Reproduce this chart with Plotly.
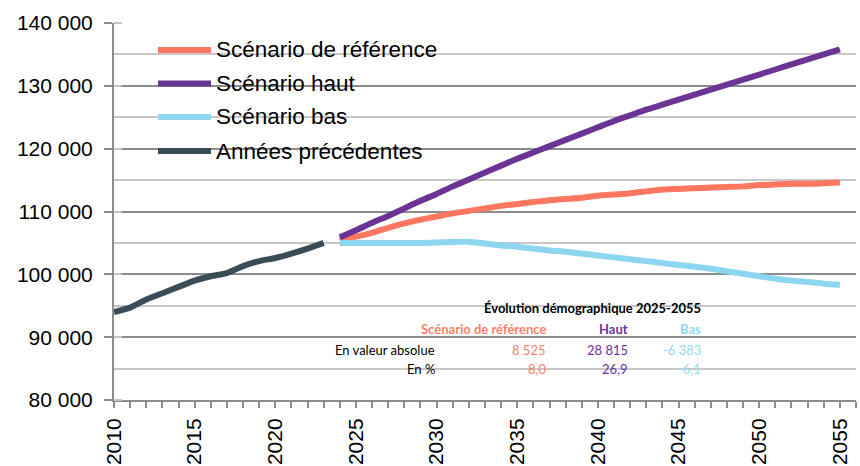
import plotly.graph_objects as go

# ---------------- data ----------------
years_hist = list(range(2010, 2024))
hist = [94000, 94700, 96000, 97000, 98000, 99000, 99700, 100200, 101300,
        102100, 102600, 103300, 104100, 105000]

years_scen = list(range(2024, 2056))
ref = [105400, 106000, 106600, 107400, 108100, 108700, 109200, 109700, 110100,
       110500, 110900, 111200, 111500, 111800, 112000, 112200, 112500, 112700,
       112900, 113200, 113500, 113600, 113700, 113800, 113900, 114000, 114200,
       114300, 114400, 114400, 114500, 114600]
haut = [105900, 107000, 108200, 109300, 110500, 111700, 112800, 114000, 115100,
        116200, 117300, 118400, 119400, 120400, 121400, 122400, 123400, 124400,
        125300, 126200, 127000, 127800, 128600, 129400, 130200, 131000, 131800,
        132600, 133400, 134200, 135000, 135800]
bas = [105000, 105000, 105000, 105000, 105000, 105000, 105050, 105150, 105200,
       104900, 104600, 104400, 104100, 103800, 103600, 103300, 103000, 102700,
       102400, 102100, 101800, 101500, 101200, 100900, 100500, 100100, 99700,
       99300, 99000, 98800, 98500, 98300]

series_names = ["Scénario de référence", "Scénario haut", "Scénario bas", "Années précédentes"]
series_colors = ["#FF7661", "#6B3494", "#8DD6F0", "#3A4C56"]

table_title = "Évolution démographique 2025-2055"
table_cols = ["Scénario de référence", "Haut", "Bas"]
table_col_colors = ["#FF7F6A", "#7030A0", "#92D8F0"]
row_labels = ["En valeur absolue", "En %"]
abs_vals = [8525, 28815, -6383]
pct_vals = [8.0, 26.9, -6.1]

y_ticks = list(range(80000, 140001, 10000))

# ---------------- helpers ----------------
L, R, T, B = 114, 4, 23, 66
W, H = 860, 466
PW, PH = W - L - R, H - T - B


def px(x):
    return (x - L) / PW


def py(y):
    return (H - B - y) / PH


def fmt_int(v):
    s = f"{abs(v):,}".replace(",", " ")
    return ("-" if v < 0 else "") + s


def fmt_pct(v):
    return f"{v:.1f}".replace(".", ",")


FONT = "Liberation Sans, Arial, sans-serif"
TFONT = "Lato, Carlito, Calibri, sans-serif"

fig = go.Figure()
scen = [ref, haut, bas]
for vals, name, col in zip(scen, series_names[:3], series_colors[:3]):
    fig.add_trace(go.Scatter(x=years_scen, y=vals, mode="lines", name=name,
                             line=dict(color=col, width=6, shape="spline", smoothing=0.6),
                             showlegend=False))
fig.add_trace(go.Scatter(x=years_hist, y=hist, mode="lines", name=series_names[3],
                         line=dict(color=series_colors[3], width=6, shape="spline", smoothing=0.6),
                         showlegend=False))

shapes = []
annotations = []

# legend box (white, hides gridlines)
shapes.append(dict(type="rect", xref="paper", yref="paper", layer="between",
                   x0=px(116), x1=px(470), y0=py(176), y1=py(25),
                   fillcolor="white", line=dict(width=0)))
leg_rows = [50, 83.5, 117, 151]
for name, col, yy in zip(series_names, series_colors, leg_rows):
    shapes.append(dict(type="line", xref="paper", yref="paper", layer="above",
                       x0=px(158), x1=px(211), y0=py(yy), y1=py(yy),
                       line=dict(color=col, width=6)))
    annotations.append(dict(xref="paper", yref="paper", x=px(214), y=py(yy),
                            text=name, showarrow=False, xanchor="left", yanchor="middle",
                            font=dict(family=FONT, size=22.5, color="#000000")))

# table box
shapes.append(dict(type="rect", xref="paper", yref="paper", layer="between",
                   x0=px(238), x1=px(706), y0=py(392), y1=py(292),
                   fillcolor="white", line=dict(width=0)))
annotations.append(dict(xref="paper", yref="paper", x=px(703), y=py(308),
                        text=f"<b>{table_title}</b>", showarrow=False,
                        xanchor="right", yanchor="middle",
                        font=dict(family=TFONT, size=13, color="#000000")))
col_right = [548, 630, 703]
for c, col, xr in zip(table_cols, table_col_colors, col_right):
    annotations.append(dict(xref="paper", yref="paper", x=px(xr), y=py(329),
                            text=f"<b>{c}</b>", showarrow=False,
                            xanchor="right", yanchor="middle",
                            font=dict(family=TFONT, size=13, color=col)))
row_y = [350, 369]
row_vals = [[fmt_int(v) for v in abs_vals], [fmt_pct(v) for v in pct_vals]]
for lab, yy, vals in zip(row_labels, row_y, row_vals):
    annotations.append(dict(xref="paper", yref="paper", x=px(437), y=py(yy),
                            text=lab, showarrow=False, xanchor="right", yanchor="middle",
                            font=dict(family=TFONT, size=13, color="#000000")))
    for v, col, xr in zip(vals, table_col_colors, col_right):
        annotations.append(dict(xref="paper", yref="paper", x=px(xr), y=py(yy),
                                text=v, showarrow=False, xanchor="right", yanchor="middle",
                                font=dict(family=TFONT, size=13, color=col)))

fig.update_layout(
    width=W, height=H,
    margin=dict(l=L, r=R, t=T, b=B, pad=0, autoexpand=False),
    paper_bgcolor="white", plot_bgcolor="white",
    separators=", ",
    shapes=shapes, annotations=annotations,
    showlegend=False,
    font=dict(family=FONT, size=20, color="#000000"),
)
fig.update_xaxes(
    range=[2010, 2056], tickmode="linear", tick0=2010, dtick=5,
    tickangle=-90, showgrid=False, zeroline=False, automargin=False,
    showline=True, linecolor="#8C8C8C", linewidth=2,
    ticks="outside", ticklen=6, tickwidth=2, tickcolor="#8C8C8C",
    ticklabelstandoff=2,
    tickfont=dict(family=FONT, size=21, color="#000000"),
    minor=dict(dtick=1, tick0=2010, ticks="outside", ticklen=6, tickwidth=2,
               tickcolor="#8C8C8C", showgrid=False),
)
fig.update_yaxes(
    range=[80000, 140000], tickmode="array", tickvals=y_ticks,
    ticktext=[fmt_int(v) for v in y_ticks], automargin=False,
    showgrid=True, gridcolor="#8C8C8C", gridwidth=2, zeroline=False,
    showline=True, linecolor="#8C8C8C", linewidth=2,
    ticks="outside", ticklen=8, tickwidth=2, tickcolor="#8C8C8C",
    ticklabelstandoff=7,
    tickfont=dict(family=FONT, size=21, color="#000000"),
    minor=dict(dtick=5000, tick0=80000, ticks="inside", ticklen=8, tickwidth=2,
               tickcolor="#C4C4C4", showgrid=True, gridcolor="#C8C8C8", gridwidth=2),
)

fig.write_html("out.html", config={"displayModeBar": False},
               post_script="document.body.style.margin='0';document.body.style.padding='0';")
